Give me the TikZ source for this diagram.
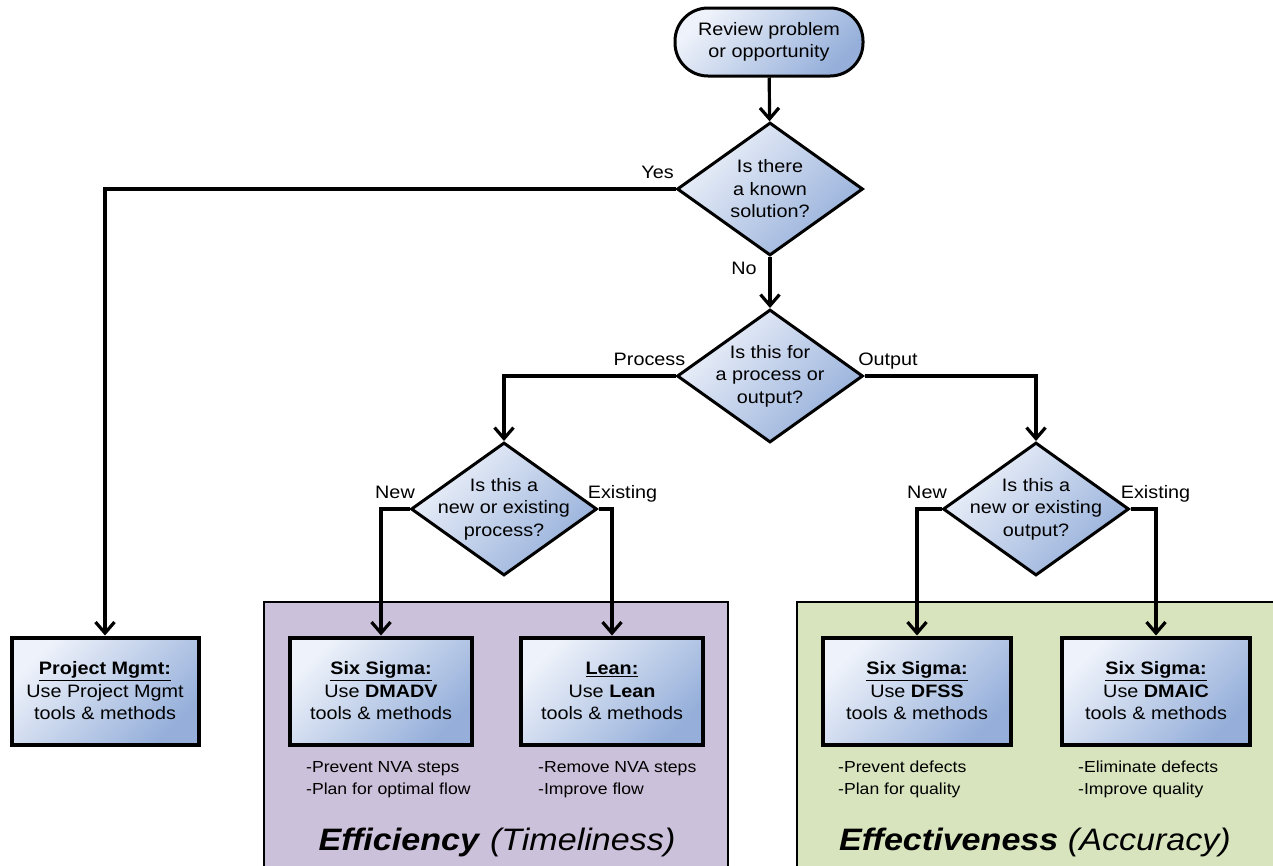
\documentclass[tikz,border=0pt]{standalone}
\usepackage{fontspec}
\setmainfont[FakeStretch=1.1]{Liberation Sans}
\usetikzlibrary{shapes.geometric,arrows.meta}
\definecolor{gl}{HTML}{EEF2FA}
\definecolor{gd}{HTML}{95AFDA}
\definecolor{purp}{HTML}{CCC1DA}
\definecolor{grn}{HTML}{D7E4BD}
\begin{document}
\begin{tikzpicture}[x=1pt,y=-1pt,
  every node/.style={font=\fontsize{18}{22.5}\selectfont},
  grad/.style={top color=gl,bottom color=gd,shading angle=45},
  term/.style={draw,line width=3pt,grad,rounded corners=33pt,minimum width=188pt,minimum height=68pt,align=center,inner sep=0pt},
  dec/.style={diamond,draw,line width=3pt,grad,aspect=1.4,minimum width=186pt,minimum height=133pt,inner sep=-16pt,align=center},
  stepbox/.style={draw,line width=4pt,grad,minimum width=182pt,minimum height=107pt,align=center,inner sep=0pt},
  arr/.style={line width=3.2pt,-{Straight Barb[length=11pt,width=19pt]}},
  lbl/.style={anchor=base,inner sep=0pt},
  note/.style={font=\fontsize{16}{22}\selectfont,align=left,anchor=north west,inner sep=0pt},
  title/.style={font=\fontsize{31}{36}\selectfont,inner sep=0pt},
  panel/.style={draw,line width=2.5pt}]
\useasboundingbox (0,0) rectangle (1273,865);
% panels
\draw[panel,fill=purp] (264,602) rectangle (728,880);
\draw[panel,fill=grn] (797,602) rectangle (1285,880);
% nodes
\node[term] (start) at (769,42) {Review problem\\or opportunity};
\node[dec] (d1) at (770,189) {Is there\\a known\\solution?};
\node[dec] (d2) at (770,376) {Is this for\\a process or\\output?};
\node[dec] (d3) at (504,509) {Is this a\\new or existing\\process?};
\node[dec] (d4) at (1036,509) {Is this a\\new or existing\\output?};
\node[stepbox,minimum width=187pt] (pm) at (105,691) {\textbf{\underline{Project Mgmt:}}\\Use Project Mgmt\\tools \& methods};
\node[stepbox] (dmadv) at (381,691) {\textbf{\underline{Six Sigma:}}\\Use \textbf{DMADV}\\tools \& methods};
\node[stepbox] (lean) at (612,691) {\textbf{\underline{Lean:}}\\Use \textbf{Lean}\\tools \& methods};
\node[stepbox,minimum width=188pt] (dfss) at (917,691) {\textbf{\underline{Six Sigma:}}\\Use \textbf{DFSS}\\tools \& methods};
\node[stepbox,minimum width=188pt] (dmaic) at (1156,691) {\textbf{\underline{Six Sigma:}}\\Use \textbf{DMAIC}\\tools \& methods};
% connectors
\draw[arr] (start) -- (d1);
\draw[arr] (d1.west) -| (pm.north);
\draw[arr] (d1.south) -- (d2.north);
\draw[arr] (d2.west) -| (d3.north);
\draw[arr] (d2.east) -| (d4.north);
\draw[arr] (d3.west) -| (dmadv.north);
\draw[arr] (d3.east) -| (lean.north);
\draw[arr] (d4.west) -| (dfss.north);
\draw[arr] (d4.east) -| (dmaic.north);
% labels
\node[lbl] (lyes) at (657.5,178.5) {Yes};
\node[lbl] (lno) at (744,274.5) {No};
\node[lbl] (lproc) at (649.5,365.5) {Process};
\node[lbl] (lout) at (888,365.5) {Output};
\node[lbl] (lnew1) at (395,498.5) {New};
\node[lbl] (lex1) at (622.5,498.5) {Existing};
\node[lbl] (lnew2) at (927,498.5) {New};
\node[lbl] (lex2) at (1155.5,498.5) {Existing};
% notes
\node[note] (n1) at (306,761) {-Prevent NVA steps\\-Plan for optimal flow};
\node[note] (n2) at (538,761) {-Remove NVA steps\\-Improve flow};
\node[note] (n3) at (838,761) {-Prevent defects\\-Plan for quality};
\node[note] (n4) at (1078,761) {-Eliminate defects\\-Improve quality};
% titles
\node[title] (eff) at (497,842) {\textbf{\textit{Efficiency}} \textit{(Timeliness)}};
\node[title] (efv) at (1035,842) {\textbf{\textit{Effectiveness}} \textit{(Accuracy)}};
\end{tikzpicture}
\end{document}
